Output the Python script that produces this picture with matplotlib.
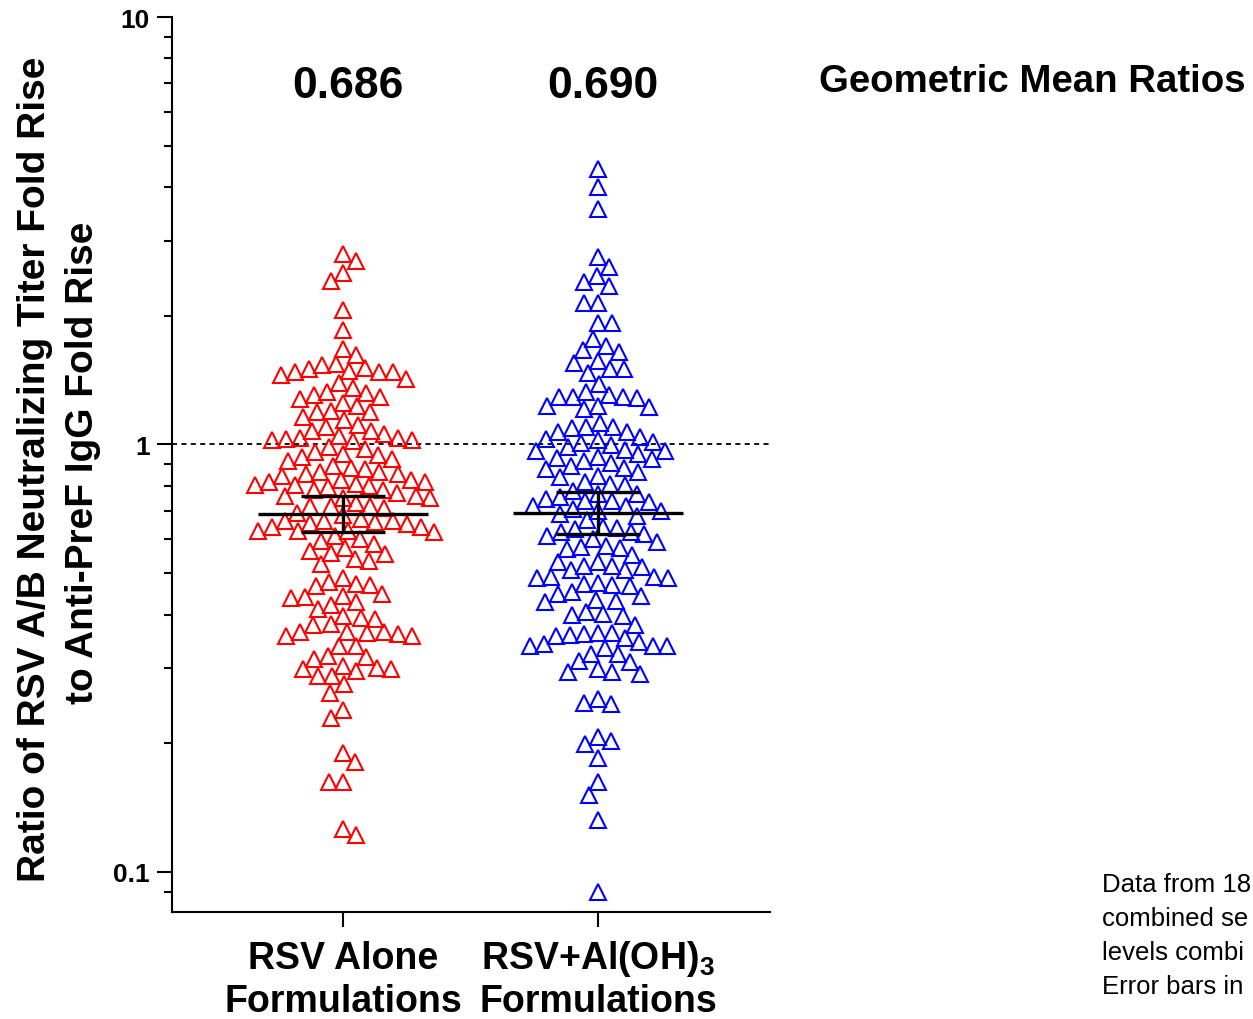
import numpy as np
import matplotlib
matplotlib.use("Agg")
import matplotlib.pyplot as plt
from matplotlib.ticker import FixedLocator, FixedFormatter, NullFormatter
from matplotlib.transforms import blended_transform_factory

plt.rcParams['font.family'] = ['Liberation Sans', 'DejaVu Sans']
plt.rcParams['mathtext.fontset'] = 'custom'
plt.rcParams['mathtext.rm'] = 'Liberation Sans'
plt.rcParams['mathtext.it'] = 'Liberation Sans'
plt.rcParams['mathtext.bf'] = 'Liberation Sans:bold'

# ---------------- data ----------------
group_line1 = ["RSV Alone", "RSV+Al(OH)$_\\mathregular{3}$"]
group_line2 = ["Formulations", "Formulations"]
colors = ["#FF0000", "#0000FF"]

rsv_alone = [
    2.687, 2.790, 2.519, 2.412, 2.064, 1.853, 1.673, 1.619, 1.534, 1.543,
    1.486, 1.454, 1.478, 1.510, 1.478, 1.502, 1.478, 1.423, 1.393, 1.356,
    1.327, 1.320, 1.306, 1.292, 1.278, 1.250, 1.230, 1.198, 1.191, 1.191,
    1.160, 1.141, 1.099, 1.111, 1.075, 1.075, 1.036, 1.036, 1.025, 1.030,
    1.025, 1.047, 1.058, 1.019, 0.987, 0.976, 0.935, 0.945, 0.950, 0.960,
    0.925, 0.915, 0.881, 0.862, 0.876, 0.891, 0.862, 0.853, 0.844, 0.817,
    0.804, 0.808, 0.795, 0.826, 0.826, 0.804, 0.817, 0.853, 0.800, 0.770,
    0.783, 0.758, 0.750, 0.758, 0.750, 0.783, 0.730, 0.718, 0.718, 0.718,
    0.710, 0.691,
    0.684, 0.628, 0.641, 0.628, 0.641, 0.662, 0.662, 0.662, 0.669, 0.652,
    0.655, 0.659, 0.624, 0.628, 0.601, 0.611, 0.585, 0.595, 0.563, 0.573,
    0.554, 0.557, 0.540, 0.534, 0.525, 0.487, 0.477, 0.469, 0.467, 0.472,
    0.447, 0.437, 0.440, 0.442, 0.428, 0.421, 0.412, 0.397, 0.393, 0.378,
    0.380, 0.391, 0.360, 0.364, 0.356, 0.362, 0.364, 0.364, 0.356, 0.338,
    0.338, 0.315, 0.320, 0.318, 0.298, 0.300, 0.303, 0.295, 0.298, 0.287,
    0.287, 0.275, 0.262, 0.229, 0.239, 0.181, 0.190, 0.162, 0.162, 0.122,
    0.126,
]

rsv_aloh3 = [
    4.410, 4.003, 3.555, 2.745, 2.601, 2.478, 2.348, 2.400, 2.143, 2.143,
    1.924, 1.924, 1.765, 1.664, 1.700, 1.646, 1.470, 1.502, 1.502, 1.551,
    1.568, 1.385, 1.292, 1.285, 1.224, 1.230, 1.306, 1.327, 1.292, 1.292,
    1.230, 1.211, 1.123, 1.093, 1.070, 1.099, 1.099, 1.070, 1.041, 1.014,
    0.987, 1.025, 1.030, 1.008, 0.997, 0.966, 0.950, 0.971, 0.966, 0.925,
    0.930, 0.915, 0.935, 0.905, 0.891, 0.881, 0.876, 0.862, 0.839, 0.844,
    0.817, 0.808, 0.804,
    0.746, 0.766, 0.766, 0.778, 0.738, 0.734, 0.738, 0.754, 0.718, 0.699,
    0.699, 0.718, 0.706, 0.680, 0.688, 0.666, 0.638, 0.641, 0.624, 0.618,
    0.624, 0.634, 0.601, 0.611, 0.591, 0.579, 0.573, 0.570, 0.576, 0.551,
    0.531, 0.531, 0.517, 0.520, 0.520, 0.509, 0.509, 0.490, 0.490, 0.487,
    0.487, 0.467, 0.474, 0.472, 0.469, 0.442, 0.447, 0.452, 0.433, 0.430,
    0.428, 0.397, 0.401, 0.406, 0.399, 0.378, 0.358, 0.362, 0.353, 0.356,
    0.360, 0.362, 0.338, 0.345, 0.338, 0.341, 0.334, 0.338, 0.324, 0.312,
    0.310, 0.324, 0.294, 0.294, 0.291, 0.298, 0.247, 0.254, 0.249, 0.207,
    0.202, 0.199, 0.185, 0.162, 0.151, 0.132, 0.0898,
]

gmr = [0.686, 0.690]
ci_low = [0.624, 0.616]
ci_high = [0.758, 0.774]

ytick_vals = [0.1, 1, 10]
ytick_labels = ["0.1", "1", "10"]

footnote_lines = ["Data from 18", "combined se", "levels combi", "Error bars in"]

# ---------------- figure ----------------
W, H = 1253, 1020
fig = plt.figure(figsize=(W / 100, H / 100), dpi=100)
ax = fig.add_axes([172 / W, 1 - 913 / H, (770 - 172) / W, (913 - 18) / H])
ax.set_yscale('log')
ax.set_ylim(0.0806, 10)
ax.set_xlim(-0.6706, 1.6745)

for s in ['top', 'right']:
    ax.spines[s].set_visible(False)
for s in ['left', 'bottom']:
    ax.spines[s].set_linewidth(1.5)

ax.yaxis.set_major_locator(FixedLocator(ytick_vals))
ax.yaxis.set_major_formatter(FixedFormatter(ytick_labels))
minors = [m * 10.0 ** e for e in (-2, -1, 0) for m in range(2, 10)]
ax.yaxis.set_minor_locator(FixedLocator(minors))
ax.yaxis.set_minor_formatter(NullFormatter())
ax.tick_params(axis='y', which='major', direction='out', length=10.8, width=1.5,
               labelsize=19, pad=5)
ax.tick_params(axis='y', which='minor', direction='out', length=5.6, width=1.5)
for lab in ax.get_yticklabels():
    lab.set_fontweight('bold')

ax.set_xticks([0, 1])
ax.set_xticklabels(["", ""])
ax.tick_params(axis='x', which='major', direction='out', length=10.5, width=1.5)

ax.axhline(1.0, color='black', lw=1.3, ls=(0, (2.8, 2.4)), zorder=1)


def swarm_offsets(ypx, w=14.0, h=17.0):
    order = np.argsort(-np.asarray(ypx))
    placed = []
    offs = np.zeros(len(ypx))
    toggle = 1.0
    for i in order:
        y = ypx[i]
        intervals = []
        for (px, py) in placed:
            dy = abs(py - y)
            if dy < h:
                half = w * np.sqrt(1 - (dy / h) ** 2)
                intervals.append((px - half, px + half))
        cands = [0.0] + [a for a, b in intervals] + [b for a, b in intervals]
        valid = [c for c in cands
                 if all(not (a + 1e-9 < c < b - 1e-9) for a, b in intervals)]
        best = min(abs(c) for c in valid)
        ties = sorted(set(round(c, 6) for c in valid if abs(abs(c) - best) < 1e-6))
        if len(ties) > 1:
            c = toggle * best
            toggle = -toggle
        else:
            c = ties[0]
        offs[i] = c
        placed.append((c, y))
    return offs


for gi, vals in enumerate([rsv_alone, rsv_aloh3]):
    vals = np.asarray(vals, dtype=float)
    disp = ax.transData.transform(np.column_stack([np.full(len(vals), gi), vals]))
    offs = swarm_offsets(disp[:, 1])
    disp[:, 0] = disp[:, 0] + offs
    data = ax.transData.inverted().transform(disp)
    ax.plot(data[:, 0], vals, linestyle='none', marker='^', markersize=11.5,
            markerfacecolor='none', markeredgecolor=colors[gi],
            markeredgewidth=1.5, zorder=2, clip_on=False)

    # geometric mean and CI
    ax.plot([gi - 0.335, gi + 0.335], [gmr[gi], gmr[gi]], color='black', lw=2.4,
            solid_capstyle='butt', zorder=3)
    ax.plot([gi - 0.163, gi + 0.163], [ci_low[gi], ci_low[gi]], color='black',
            lw=2.4, solid_capstyle='butt', zorder=3)
    ax.plot([gi - 0.163, gi + 0.163], [ci_high[gi], ci_high[gi]], color='black',
            lw=2.4, solid_capstyle='butt', zorder=3)
    ax.plot([gi, gi], [ci_low[gi], ci_high[gi]], color='black', lw=2.4,
            solid_capstyle='butt', zorder=3)

# GMR labels above groups and group labels below
tb = blended_transform_factory(ax.transData, fig.transFigure)
for gi in range(2):
    ax.text(gi + 5 / 255, 1 - 98 / H, f"{gmr[gi]:.3f}", transform=tb,
            ha='center', va='baseline', fontsize=32, fontweight='bold')
    ax.text(gi, 1 - 969 / H, group_line1[gi], transform=tb, ha='center',
            va='baseline', fontsize=27, fontweight='bold')
    ax.text(gi, 1 - 1012 / H, group_line2[gi], transform=tb, ha='center',
            va='baseline', fontsize=27, fontweight='bold')

fig.text(819 / W, 1 - 92 / H, "Geometric Mean Ratios", ha='left', va='baseline',
         fontsize=27.6, fontweight='bold')

# y-axis label (two lines)
fig.text(45 / W, 1 - 469 / H, "Ratio of RSV A/B Neutralizing Titer Fold Rise",
         rotation=90, rotation_mode='anchor', ha='center', va='baseline',
         fontsize=28, fontweight='bold')
fig.text(93 / W, 1 - 463 / H, "to Anti-PreF IgG Fold Rise",
         rotation=90, rotation_mode='anchor', ha='center', va='baseline',
         fontsize=28, fontweight='bold')

for k, line in enumerate(footnote_lines):
    fig.text(1102 / W, 1 - (892 + 34 * k) / H, line, ha='left', va='baseline',
             fontsize=18.5)

fig.savefig("out.png", dpi=100)
